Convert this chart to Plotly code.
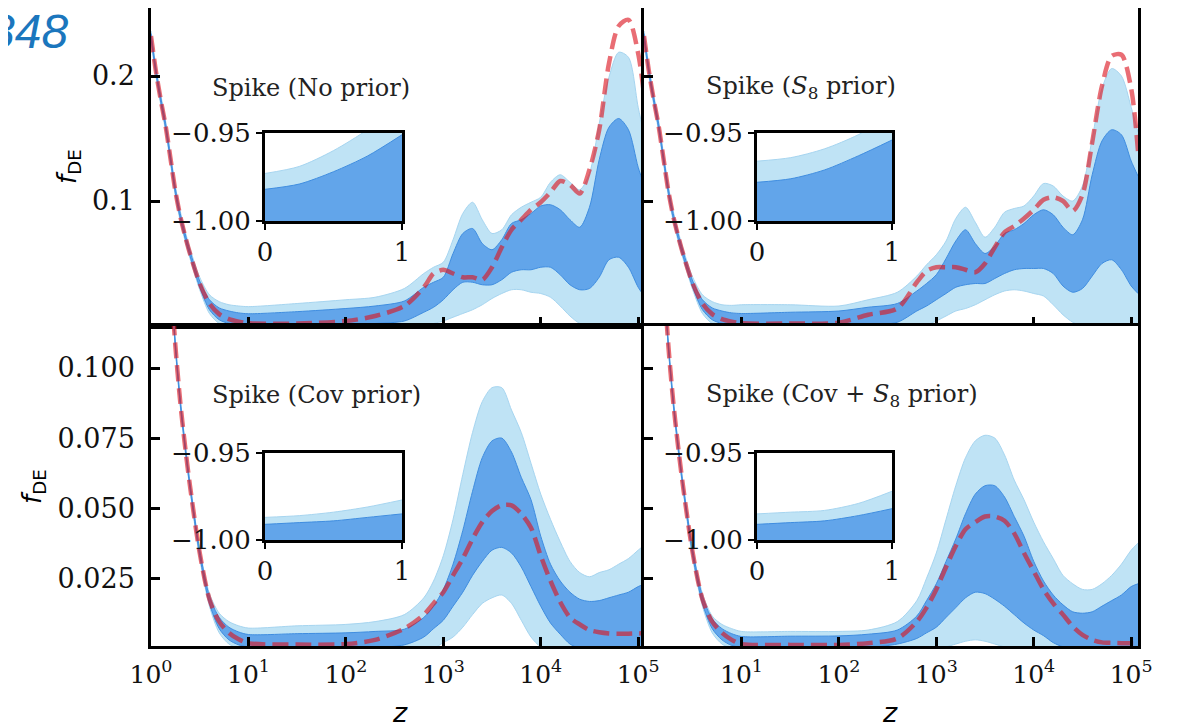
import plotly.graph_objects as go

# page body has an 8px default margin; figure is sized/offset so the window matches the reference
OFF = 8
W, H = 1181 - OFF, 727 - OFF

# ---------------- data ----------------
log10_z = [0.0, 0.05, 0.1, 0.15, 0.2, 0.25, 0.3, 0.35, 0.4, 0.5, 0.6, 0.7, 0.8, 0.9, 1.0,
           1.5, 2.0, 2.3, 2.6, 2.8, 2.9, 3.0, 3.1, 3.2, 3.3, 3.4, 3.5, 3.6, 3.7, 3.8, 3.9,
           4.0, 4.1, 4.2, 4.3, 4.4, 4.5, 4.6, 4.7, 4.8, 4.9, 5.0, 5.07]

# Top-left: Spike (No prior)
tl_best = [0.232, 0.204, 0.181, 0.160, 0.134, 0.108, 0.088, 0.072, 0.058, 0.034, 0.018, 0.0095, 0.0055, 0.0035, 0.0022,
           0.002, 0.004, 0.008, 0.016, 0.031, 0.042, 0.045, 0.042, 0.039, 0.039, 0.037, 0.047, 0.063, 0.077, 0.085, 0.093,
           0.099, 0.107, 0.116, 0.113, 0.106, 0.125, 0.157, 0.210, 0.240, 0.245, 0.218, 0.178]
tl_u95 = [0.236, 0.208, 0.185, 0.164, 0.138, 0.112, 0.092, 0.076, 0.062, 0.039, 0.025, 0.0195, 0.017, 0.016, 0.0155,
          0.018, 0.021, 0.023, 0.030, 0.042, 0.047, 0.051, 0.069, 0.090, 0.099, 0.085, 0.074, 0.077, 0.089, 0.095, 0.099,
          0.103, 0.115, 0.121, 0.115, 0.109, 0.122, 0.162, 0.199, 0.219, 0.215, 0.175, 0.150]
tl_u68 = [0.234, 0.206, 0.183, 0.162, 0.136, 0.110, 0.090, 0.074, 0.060, 0.036, 0.021, 0.0145, 0.012, 0.0105, 0.0098,
          0.0115, 0.014, 0.016, 0.020, 0.031, 0.035, 0.039, 0.058, 0.074, 0.078, 0.066, 0.061, 0.069, 0.082, 0.085, 0.090,
          0.096, 0.097, 0.093, 0.085, 0.079, 0.095, 0.133, 0.159, 0.166, 0.157, 0.127, 0.111]
tl_l68 = [0.230, 0.202, 0.179, 0.158, 0.132, 0.106, 0.086, 0.070, 0.056, 0.031, 0.013, 0.005, 0.002, 0.0008, 0.0004,
          0.0004, 0.001, 0.002, 0.004, 0.011, 0.015, 0.021, 0.029, 0.035, 0.035, 0.033, 0.033, 0.037, 0.043, 0.045, 0.045,
          0.047, 0.047, 0.041, 0.033, 0.029, 0.030, 0.039, 0.053, 0.055, 0.047, 0.031, 0.023]
tl_l95 = [0.228, 0.200, 0.177, 0.156, 0.130, 0.104, 0.084, 0.068, 0.054, 0.029, 0.010, 0.002, 0.0, 0.0, 0.0,
          0.0, 0.0, 0.0, 0.0, 0.001, 0.002, 0.004, 0.007, 0.010, 0.013, 0.017, 0.022, 0.026, 0.029, 0.029, 0.027,
          0.026, 0.023, 0.016, 0.008, 0.002, 0.0, 0.0, 0.0, 0.0, 0.0, 0.0, 0.0]

# Top-right: Spike (S8 prior)
tr_best = [0.232, 0.204, 0.181, 0.160, 0.134, 0.108, 0.088, 0.072, 0.058, 0.034, 0.018, 0.0095, 0.0055, 0.0035, 0.0022,
           0.002, 0.0027, 0.009, 0.014, 0.035, 0.044, 0.047, 0.047, 0.047, 0.045, 0.043, 0.050, 0.063, 0.075, 0.080, 0.086,
           0.093, 0.101, 0.103, 0.100, 0.092, 0.105, 0.147, 0.192, 0.216, 0.217, 0.190, 0.140]
tr_u95 = [0.236, 0.208, 0.185, 0.164, 0.138, 0.112, 0.092, 0.076, 0.062, 0.039, 0.025, 0.0195, 0.017, 0.0165, 0.017,
          0.017, 0.016, 0.021, 0.027, 0.040, 0.049, 0.057, 0.068, 0.086, 0.095, 0.083, 0.071, 0.079, 0.091, 0.094, 0.096,
          0.104, 0.114, 0.112, 0.104, 0.100, 0.112, 0.150, 0.190, 0.206, 0.200, 0.175, 0.155]
tr_u68 = [0.234, 0.206, 0.183, 0.162, 0.136, 0.110, 0.090, 0.074, 0.060, 0.036, 0.021, 0.0145, 0.012, 0.0105, 0.010,
          0.011, 0.012, 0.015, 0.018, 0.028, 0.034, 0.041, 0.054, 0.068, 0.077, 0.066, 0.058, 0.064, 0.074, 0.077, 0.082,
          0.089, 0.093, 0.089, 0.079, 0.073, 0.085, 0.121, 0.148, 0.157, 0.153, 0.132, 0.120]
tr_l68 = [0.230, 0.202, 0.179, 0.158, 0.132, 0.106, 0.086, 0.070, 0.056, 0.031, 0.013, 0.005, 0.002, 0.0008, 0.0005,
          0.0005, 0.0005, 0.0008, 0.003, 0.012, 0.016, 0.021, 0.026, 0.031, 0.033, 0.034, 0.034, 0.038, 0.042, 0.045, 0.046,
          0.046, 0.046, 0.042, 0.032, 0.027, 0.030, 0.040, 0.050, 0.053, 0.045, 0.032, 0.026]
tr_l95 = [0.228, 0.200, 0.177, 0.156, 0.130, 0.104, 0.084, 0.068, 0.054, 0.029, 0.010, 0.002, 0.0, 0.0, 0.0,
          0.0, 0.0, 0.0, 0.0, 0.0, 0.001, 0.004, 0.008, 0.012, 0.014, 0.017, 0.021, 0.025, 0.028, 0.029, 0.028,
          0.026, 0.024, 0.017, 0.009, 0.003, 0.0, 0.0, 0.0, 0.0, 0.0, 0.0, 0.0]

# Bottom-left: Spike (Cov prior)
bl_best = [0.232, 0.204, 0.181, 0.160, 0.134, 0.108, 0.088, 0.072, 0.058, 0.034, 0.0175, 0.0095, 0.0055, 0.0032, 0.0018,
           0.0013, 0.0015, 0.003, 0.007, 0.012, 0.016, 0.020, 0.026, 0.032, 0.039, 0.045, 0.049, 0.051, 0.051, 0.048, 0.043,
           0.033, 0.024, 0.0165, 0.011, 0.0085, 0.0065, 0.0057, 0.0053, 0.0052, 0.0052, 0.0053, 0.0053]
bl_u95 = [0.2335, 0.2055, 0.1825, 0.1615, 0.1355, 0.1095, 0.0895, 0.0735, 0.0595, 0.0355, 0.0195, 0.0125, 0.0095, 0.008, 0.0072,
          0.008, 0.0085, 0.0095, 0.012, 0.018, 0.024, 0.033, 0.046, 0.062, 0.077, 0.088, 0.093, 0.093, 0.085, 0.077, 0.066,
          0.055, 0.046, 0.038, 0.031, 0.027, 0.0255, 0.027, 0.028, 0.030, 0.032, 0.035, 0.037]
bl_u68 = [0.2328, 0.2048, 0.1818, 0.1608, 0.1348, 0.1088, 0.0888, 0.0728, 0.0588, 0.035, 0.0185, 0.011, 0.0075, 0.0058, 0.0049,
          0.0052, 0.0055, 0.006, 0.0068, 0.011, 0.015, 0.021, 0.030, 0.042, 0.056, 0.068, 0.074, 0.075, 0.070, 0.061, 0.053,
          0.040, 0.030, 0.024, 0.020, 0.0175, 0.0167, 0.017, 0.018, 0.019, 0.020, 0.022, 0.023]
bl_l68 = [0.2312, 0.2032, 0.1802, 0.1592, 0.1332, 0.1072, 0.0872, 0.0712, 0.0572, 0.033, 0.016, 0.007, 0.003, 0.0012, 0.0005,
          0.0003, 0.0003, 0.0003, 0.0012, 0.004, 0.007, 0.010, 0.015, 0.020, 0.026, 0.031, 0.035, 0.036, 0.034, 0.029, 0.022,
          0.015, 0.009, 0.005, 0.0015, 0.0, 0.0, 0.0, 0.0, 0.0, 0.0, 0.0, 0.0]
bl_l95 = [0.2305, 0.2025, 0.1795, 0.1585, 0.1325, 0.1065, 0.0865, 0.0705, 0.0565, 0.032, 0.015, 0.0055, 0.0015, 0.0, 0.0,
          0.0, 0.0, 0.0, 0.0, 0.0, 0.0, 0.002, 0.004, 0.0075, 0.012, 0.016, 0.018, 0.019, 0.016, 0.010, 0.004,
          0.0005, 0.0, 0.0, 0.0, 0.0, 0.0, 0.0, 0.0, 0.0, 0.0, 0.0, 0.0]

# Bottom-right: Spike (Cov + S8 prior)
br_best = [0.232, 0.204, 0.181, 0.160, 0.134, 0.108, 0.088, 0.072, 0.058, 0.034, 0.0175, 0.0095, 0.0055, 0.003, 0.0015,
           0.0012, 0.0012, 0.0018, 0.0035, 0.0095, 0.0145, 0.021, 0.029, 0.0365, 0.0425, 0.045, 0.047, 0.047, 0.0455, 0.041, 0.034,
           0.0275, 0.021, 0.016, 0.012, 0.0078, 0.0048, 0.003, 0.0021, 0.0019, 0.0018, 0.0018, 0.0018]
br_u95 = [0.2335, 0.2055, 0.1825, 0.1615, 0.1355, 0.1095, 0.0895, 0.0735, 0.0595, 0.0355, 0.0195, 0.0115, 0.0085, 0.007, 0.006,
          0.006, 0.006, 0.0065, 0.0095, 0.017, 0.025, 0.034, 0.046, 0.058, 0.068, 0.074, 0.076, 0.075, 0.069, 0.060, 0.053,
          0.045, 0.038, 0.032, 0.026, 0.023, 0.021, 0.021, 0.023, 0.026, 0.030, 0.035, 0.0375]
br_u68 = [0.2328, 0.2048, 0.1818, 0.1608, 0.1348, 0.1088, 0.0888, 0.0728, 0.0588, 0.035, 0.0185, 0.0105, 0.007, 0.0052, 0.0042,
          0.0043, 0.0044, 0.005, 0.0065, 0.0115, 0.017, 0.023, 0.031, 0.039, 0.048, 0.055, 0.058, 0.058, 0.054, 0.047, 0.040,
          0.031, 0.024, 0.019, 0.0155, 0.013, 0.0125, 0.013, 0.015, 0.017, 0.019, 0.022, 0.023]
br_l68 = [0.2312, 0.2032, 0.1802, 0.1592, 0.1332, 0.1072, 0.0872, 0.0712, 0.0572, 0.033, 0.016, 0.007, 0.003, 0.001, 0.0004,
          0.0003, 0.0003, 0.0003, 0.0015, 0.0035, 0.0055, 0.0075, 0.011, 0.0145, 0.018, 0.020, 0.0195, 0.0175, 0.015, 0.012, 0.009,
          0.0065, 0.0045, 0.002, 0.0005, 0.0, 0.0, 0.0, 0.0, 0.0, 0.0, 0.0, 0.0]
br_l95 = [0.2305, 0.2025, 0.1795, 0.1585, 0.1325, 0.1065, 0.0865, 0.0705, 0.0565, 0.032, 0.015, 0.0055, 0.0015, 0.0, 0.0,
          0.0, 0.0, 0.0, 0.0, 0.0, 0.0, 0.0, 0.0005, 0.0015, 0.0025, 0.003, 0.0025, 0.0015, 0.0005, 0.0, 0.0,
          0.0, 0.0, 0.0, 0.0, 0.0, 0.0, 0.0, 0.0, 0.0, 0.0, 0.0, 0.0]

# Insets: w(z) for z in [0, 1]
inset_z = [0.0, 0.25, 0.5, 0.75, 1.0]
inset_floor = [-1.05, -1.05, -1.05, -1.05, -1.05]
tl_in_u95 = [-0.973, -0.969, -0.960, -0.948, -0.933]
tl_in_u68 = [-0.982, -0.979, -0.972, -0.963, -0.951]
tr_in_u95 = [-0.966, -0.964, -0.959, -0.951, -0.940]
tr_in_u68 = [-0.978, -0.976, -0.971, -0.963, -0.954]
bl_in_u95 = [-0.987, -0.986, -0.984, -0.981, -0.977]
bl_in_u68 = [-0.991, -0.990, -0.989, -0.987, -0.985]
br_in_u95 = [-0.985, -0.984, -0.983, -0.979, -0.972]
br_in_u68 = [-0.991, -0.990, -0.989, -0.986, -0.982]

panel_titles = ["Spike (No prior)", "Spike (<i>S</i><sub>8</sub> prior)",
                "Spike (Cov prior)", "Spike (Cov + <i>S</i><sub>8</sub> prior)"]
x_tickvals = [1, 10, 100, 1000, 10000, 100000]
x_ticktext = ["10<sup>0</sup>", "10<sup>1</sup>", "10<sup>2</sup>", "10<sup>3</sup>", "10<sup>4</sup>", "10<sup>5</sup>"]
top_yticks = [0.1, 0.2]
top_ytext = ["0.1", "0.2"]
bot_yticks = [0.025, 0.05, 0.075, 0.1]
bot_ytext = ["0.025", "0.050", "0.075", "0.100"]

# ---------------- styling ----------------
LIGHT = "#bfe3f5"
LIGHT_EDGE = "#a6d5f0"
DARK = "#62a5ea"
DARK_EDGE = "#3f8de0"
RED = "rgba(220,20,30,0.62)"
SERIF = "DejaVu Serif"
SANS = "DejaVu Sans"

z_vals = [10 ** v for v in log10_z]


def px_x(p):
    return (p - OFF) / W


def px_y(p):
    return 1 - (p - OFF) / H


fig = go.Figure()


def add_bands(xs, l95, u95, l68, u68, xa, ya, shape="spline"):
    common = dict(x=xs, xaxis=xa, yaxis=ya, mode="lines", hoverinfo="skip", showlegend=False)
    fig.add_trace(go.Scatter(y=l95, line=dict(color=LIGHT_EDGE, width=1, shape=shape, smoothing=0.8), **common))
    fig.add_trace(go.Scatter(y=u95, fill="tonexty", fillcolor=LIGHT,
                             line=dict(color=LIGHT_EDGE, width=1, shape=shape, smoothing=0.8), **common))
    fig.add_trace(go.Scatter(y=l68, line=dict(color=DARK_EDGE, width=1, shape=shape, smoothing=0.8), **common))
    fig.add_trace(go.Scatter(y=u68, fill="tonexty", fillcolor=DARK,
                             line=dict(color=DARK_EDGE, width=1, shape=shape, smoothing=0.8), **common))


panels = [
    ("x", "y", tl_l95, tl_u95, tl_l68, tl_u68, tl_best),
    ("x2", "y2", tr_l95, tr_u95, tr_l68, tr_u68, tr_best),
    ("x3", "y3", bl_l95, bl_u95, bl_l68, bl_u68, bl_best),
    ("x4", "y4", br_l95, br_u95, br_l68, br_u68, br_best),
]
for xa, ya, l95, u95, l68, u68, best in panels:
    add_bands(z_vals, l95, u95, l68, u68, xa, ya)
    fig.add_trace(go.Scatter(x=z_vals, y=best, xaxis=xa, yaxis=ya, mode="lines",
                             line=dict(color=RED, width=4.5, dash="16px,7px", shape="spline", smoothing=0.8),
                             hoverinfo="skip", showlegend=False))

insets = [
    ("x5", "y5", tl_in_u95, tl_in_u68),
    ("x6", "y6", tr_in_u95, tr_in_u68),
    ("x7", "y7", bl_in_u95, bl_in_u68),
    ("x8", "y8", br_in_u95, br_in_u68),
]
for xa, ya, u95, u68 in insets:
    add_bands(inset_z, inset_floor, u95, inset_floor, u68, xa, ya)

# ---------------- axes ----------------
xtickfont = dict(family=SERIF, size=25, color="#111111")
ytickfont = dict(family=SERIF, size=27, color="#111111")
intickfont = dict(family=SERIF, size=26, color="#111111")
LW = 2.5

left_dom = [px_x(151), px_x(645)]
right_dom = [px_x(644), px_x(1138)]
top_dom = [px_y(326), px_y(8)]
bot_dom = [px_y(646), px_y(326)]


def main_xaxis(dom, anchor, labels, skip_first=False):
    txt = list(x_ticktext)
    if skip_first:
        txt[0] = ""
    return dict(type="log", range=[0, 5.07], domain=dom, anchor=anchor, automargin=False,
                showline=True, linewidth=LW, linecolor="black", mirror=True,
                ticks="inside", ticklen=9, tickwidth=LW, tickcolor="black",
                tickvals=x_tickvals, ticktext=txt, showticklabels=labels,
                tickfont=xtickfont, ticklabelstandoff=4,
                showgrid=False, zeroline=False)


def main_yaxis(dom, anchor, rng, vals, text, labels):
    return dict(range=rng, domain=dom, anchor=anchor, automargin=False,
                showline=True, linewidth=LW, linecolor="black", mirror=True,
                ticks="inside", ticklen=9, tickwidth=LW, tickcolor="black",
                tickvals=vals, ticktext=text, showticklabels=labels,
                tickfont=ytickfont, ticklabelstandoff=8,
                showgrid=False, zeroline=False)


def inset_xaxis(dom, anchor):
    return dict(range=[0, 1], domain=dom, anchor=anchor, automargin=False,
                showline=True, linewidth=3, linecolor="black", mirror=True,
                ticks="outside", ticklen=6, tickwidth=2, tickcolor="black",
                tickvals=[0, 1], ticktext=["0", "1"], tickfont=intickfont,
                showgrid=False, zeroline=False)


def inset_yaxis(dom, anchor):
    return dict(range=[-1.0, -0.95], domain=dom, anchor=anchor, automargin=False,
                showline=True, linewidth=3, linecolor="black", mirror=True,
                ticks="outside", ticklen=6, tickwidth=2, tickcolor="black",
                tickvals=[-1.0, -0.95], ticktext=["\u22121.00", "\u22120.95"], tickfont=intickfont,
                showgrid=False, zeroline=False)


top_rng = [0, 0.2544]
bot_rng = [0.0008, 0.115]

in_left = [px_x(265), px_x(402)]
in_right = [px_x(757), px_x(892)]
in_top = [px_y(221), px_y(133)]
in_bot = [px_y(540), px_y(453)]

fig.update_layout(
    template="none",
    width=W, height=H,
    margin=dict(l=0, r=0, t=0, b=0, pad=0),
    paper_bgcolor="white", plot_bgcolor="white",
    showlegend=False,
    font=dict(family=SERIF, color="black"),
    xaxis=main_xaxis(left_dom, "y", False),
    yaxis=main_yaxis(top_dom, "x", top_rng, top_yticks, top_ytext, True),
    xaxis2=main_xaxis(right_dom, "y2", False),
    yaxis2=main_yaxis(top_dom, "x2", top_rng, top_yticks, top_ytext, False),
    xaxis3=main_xaxis(left_dom, "y3", True),
    yaxis3=main_yaxis(bot_dom, "x3", bot_rng, bot_yticks, bot_ytext, True),
    xaxis4=main_xaxis(right_dom, "y4", True, skip_first=True),
    yaxis4=main_yaxis(bot_dom, "x4", bot_rng, bot_yticks, bot_ytext, False),
    xaxis5=inset_xaxis(in_left, "y5"), yaxis5=inset_yaxis(in_top, "x5"),
    xaxis6=inset_xaxis(in_right, "y6"), yaxis6=inset_yaxis(in_top, "x6"),
    xaxis7=inset_xaxis(in_left, "y7"), yaxis7=inset_yaxis(in_bot, "x7"),
    xaxis8=inset_xaxis(in_right, "y8"), yaxis8=inset_yaxis(in_bot, "x8"),
)

# ---------------- text ----------------
ann = []
title_pos = [(210, 88), (704, 88), (210, 395), (704, 395)]
for t, (px, py) in zip(panel_titles, title_pos):
    ann.append(dict(text=t, x=px_x(px), y=px_y(py), xref="paper", yref="paper",
                    xanchor="left", yanchor="middle", showarrow=False,
                    font=dict(family=SERIF, size=24, color="#222222")))
for px, py in [(68, 167), (33, 487)]:
    ann.append(dict(text="<i>f</i><sub>DE</sub>", x=px_x(px), y=px_y(py), xref="paper", yref="paper",
                    xanchor="center", yanchor="middle", textangle=-90, showarrow=False,
                    font=dict(family=SANS, size=26, color="black")))
for px in [400, 890]:
    ann.append(dict(text="<i>z</i>", x=px_x(px), y=px_y(712), xref="paper", yref="paper",
                    xanchor="center", yanchor="middle", showarrow=False,
                    font=dict(family=SANS, size=27, color="black")))
ann.append(dict(text="<i>848</i>", x=px_x(70), y=px_y(31), xref="paper", yref="paper",
                xanchor="right", yanchor="middle", showarrow=False,
                font=dict(family="Liberation Sans", size=48, color="#1b76bd")))
fig.update_layout(annotations=ann)

fig.write_html("out.html")
